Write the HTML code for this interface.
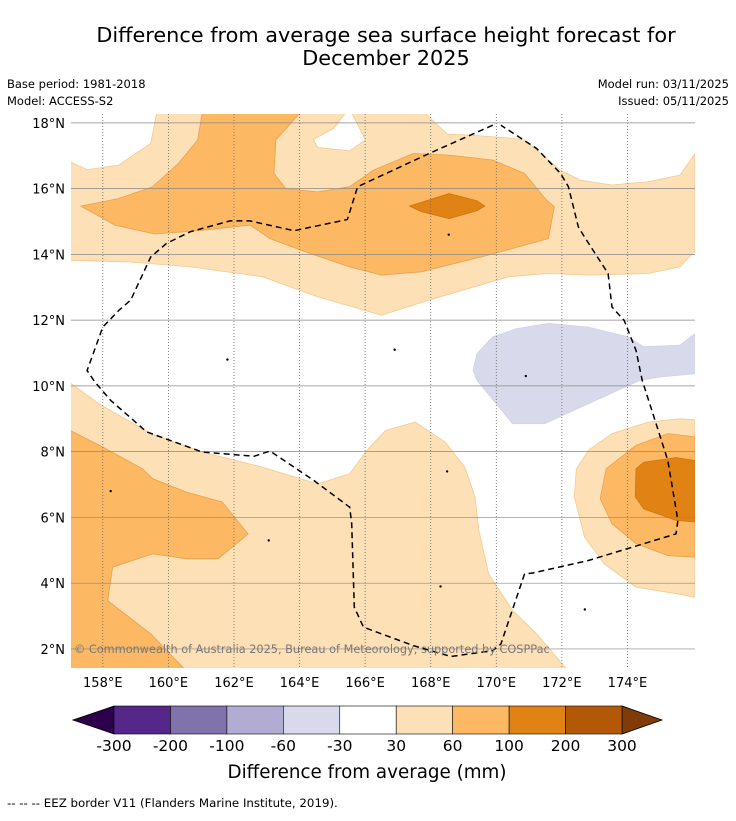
<!DOCTYPE html>
<html><head><meta charset="utf-8">
<style>
body{margin:0;background:#fff;font-family:"Liberation Sans",sans-serif;}
svg text{font-family:"DejaVu Sans","Liberation Sans",sans-serif;}
</style></head>
<body>
<svg id="chart" width="736" height="816" xmlns="http://www.w3.org/2000/svg">
<rect width="736" height="816" fill="#fff"/>
<text x="386" y="42" font-size="20.8" text-anchor="middle">Difference from average sea surface height forecast for</text>
<text x="386" y="65" font-size="20.8" text-anchor="middle">December 2025</text>
<text x="7" y="88" font-size="11.5">Base period: 1981-2018</text>
<text x="7" y="105" font-size="11.5">Model: ACCESS-S2</text>
<text x="729" y="88" font-size="11.5" text-anchor="end">Model run: 03/11/2025</text>
<text x="729" y="105" font-size="11.5" text-anchor="end">Issued: 05/11/2025</text>
<defs><clipPath id="mapclip"><rect x="71" y="114" width="624" height="554"/></clipPath></defs>
<g id="map" clip-path="url(#mapclip)"></g>
<g id="axes"></g>
<g id="colorbar"></g>
<text x="367" y="778" font-size="18.3" text-anchor="middle">Difference from average (mm)</text>
<text x="7" y="807" font-size="11.8">--  --  -- EEZ border V11 (Flanders Marine Institute, 2019).</text>
</svg>
<script>
const lonRange=[157.03,176.06], latRange=[1.42,18.27];
const xTicks=[158,160,162,164,166,168,170,172,174];
const yTicks=[2,4,6,8,10,12,14,16,18];
const cbLevels=["-300","-200","-100","-60","-30","30","60","100","200","300"];
const cbColors=["#542788","#8073ac","#b2abd2","#d8daeb","#ffffff","#fee0b6","#fdb863","#e08214","#b35806"];
const cbLow="#2d004b", cbHigh="#7f3b08";
// contour polygons [lon,lat]
const lightNorth=[[159.64,18.3],[167.83,18.3],[168.5,17.66],[169.17,17.63],[170.5,17.53],[170.86,17.48],[171.96,16.56],[172.56,16.26],[173.53,16.11],[174.63,16.21],[175.6,16.41],[176.06,17.07],[176.06,14.1],[175.6,13.62],[174.63,13.42],[172.81,13.37],[171.59,13.42],[170.38,13.32],[167.95,12.61],[166.5,12.15],[164.55,12.71],[162.86,13.32],[160.67,13.62],[158.85,13.77],[157.0,13.82],[157.0,16.82],[157.52,16.58],[158.49,16.72],[159.46,17.38]];
const holeNorth=[[165.4,18.3],[165.59,18.3],[166.01,17.48],[165.53,17.15],[164.55,17.25],[164.43,17.5],[165.04,17.83]];
const mediumNorth=[[161.03,18.3],[160.89,17.48],[160.31,16.77],[159.52,16.06],[158.49,15.7],[157.33,15.47],[158.37,14.89],[159.58,14.62],[160.91,14.72],[162.49,14.89],[163.1,14.48],[164.31,14.03],[165.53,13.62],[166.5,13.37],[167.71,13.47],[169.77,13.98],[171.59,14.48],[171.77,15.45],[171.53,15.65],[170.86,16.46],[169.89,16.87],[168.56,17.02],[167.47,17.07],[166.25,16.56],[165.53,16.06],[164.55,15.9],[163.58,16.0],[163.22,16.46],[163.28,17.48],[164.01,18.3]];
const darkNorth=[[167.35,15.47],[168.56,15.85],[169.41,15.63],[169.65,15.47],[169.41,15.33],[168.56,15.09],[167.71,15.3]];
const lavender=[[169.41,10.17],[169.29,10.47],[169.41,10.98],[169.89,11.49],[170.62,11.74],[171.59,11.9],[172.81,11.79],[174.02,11.49],[174.5,11.19],[175.6,11.24],[176.06,11.59],[176.06,10.37],[174.99,10.27],[174.38,10.17],[171.47,8.85],[170.5,8.85]];
const lightSouth=[[157.0,10.1],[157.88,9.46],[159.46,8.55],[161.03,7.99],[162.86,7.53],[164.55,7.02],[165.53,7.33],[166.01,7.99],[166.62,8.65],[167.53,8.9],[168.44,8.29],[169.04,7.53],[169.35,6.62],[169.47,5.6],[169.77,4.28],[170.5,3.17],[171.23,2.46],[172.14,1.39],[157.0,1.39]];
const mediumSouth=[[157.0,8.65],[158.0,8.14],[159.21,7.48],[159.52,7.18],[160.55,6.77],[161.64,6.47],[162.43,5.5],[161.52,4.74],[160.55,4.74],[159.52,4.89],[158.3,4.49],[158.15,3.47],[159.46,2.46],[160.49,1.39],[157.0,1.38]];
const lightEast=[[172.44,7.48],[172.81,8.04],[173.53,8.55],[174.63,8.9],[175.6,9.0],[176.06,8.97],[176.06,3.57],[175.48,3.68],[174.26,3.88],[173.29,4.59],[172.69,5.4],[172.38,6.62]];
const mediumEast=[[173.17,6.57],[173.35,7.48],[174.26,8.19],[175.23,8.55],[176.06,8.45],[176.06,4.79],[175.23,4.84],[174.26,5.2],[173.53,5.81]];
const darkEast=[[174.26,7.48],[174.5,7.68],[175.48,7.82],[176.06,7.73],[176.06,5.86],[175.48,5.91],[174.5,6.26],[174.24,6.62]];
const eezBorder=[[169.89,17.93],[167.95,17.07],[165.77,16.06],[165.46,15.06],[163.83,14.72],[162.49,15.02],[161.88,15.02],[160.67,14.69],[159.94,14.33],[159.46,13.92],[158.85,12.61],[158.49,12.3],[158.0,11.79],[157.52,10.47],[157.76,10.12],[158.24,9.56],[159.34,8.6],[161.03,7.99],[162.61,7.86],[163.1,8.02],[164.43,7.13],[165.53,6.31],[165.59,5.81],[165.67,3.27],[165.95,2.66],[167.47,2.1],[168.62,1.77],[169.89,1.95],[170.14,2.15],[170.86,4.28],[171.11,4.31],[172.81,4.69],[175.48,5.5],[175.54,5.91],[175.23,7.73],[174.81,9.05],[174.45,10.17],[174.26,11.08],[173.9,11.99],[173.53,12.4],[173.41,13.42],[172.69,14.53],[172.5,14.84],[172.2,16.06],[171.96,16.46],[171.23,17.22],[170.14,17.93]];
const islands=[[158.24,6.8],[163.06,5.3],[168.55,14.6],[161.8,10.8],[166.9,11.1],[170.9,10.3],[168.5,7.4],[168.3,3.9],[172.7,3.2]];

const NS="http://www.w3.org/2000/svg";
const X=lon=>71+(lon-lonRange[0])/(lonRange[1]-lonRange[0])*624;
const Y=lat=>668-(lat-latRange[0])/(latRange[1]-latRange[0])*554;
function mk(tag,attrs,parent){const e=document.createElementNS(NS,tag);for(const k in attrs)e.setAttribute(k,attrs[k]);parent.appendChild(e);return e;}
const map=document.getElementById('map'), axes=document.getElementById('axes'), cb=document.getElementById('colorbar');
function pts(a){return a.map(p=>X(p[0]).toFixed(1)+','+Y(p[1]).toFixed(1)).join(' ');}
const fills=[[lightNorth,"#fee0b6","#f5c98e","contour-30-60-north"],[holeNorth,"#ffffff","#f5c98e","contour-below-30-north"],[mediumNorth,"#fdb863","#eaa04c","contour-60-100-north"],[darkNorth,"#e08214","#cf7410","contour-100-200-north"],[lavender,"#d8daeb","#d0d2e6","contour-neg30-neg60"],[lightSouth,"#fee0b6","#f5c98e","contour-30-60-south"],[mediumSouth,"#fdb863","#eaa04c","contour-60-100-south"],[lightEast,"#fee0b6","#f5c98e","contour-30-60-east"],[mediumEast,"#fdb863","#eaa04c","contour-60-100-east"],[darkEast,"#e08214","#cf7410","contour-100-200-east"]];
fills.forEach(f=>{
  const p=mk('polygon',{points:pts(f[0]),fill:f[1],stroke:f[2],'stroke-width':0.8},map);
  
  
});
islands.forEach(i=>{
  const c=mk('circle',{cx:X(i[0]),cy:Y(i[1]),r:1.2,fill:'#000'},map);
  
  
});
xTicks.forEach(t=>{
  const l=mk('line',{x1:X(t),x2:X(t),y1:114,y2:668,stroke:'#666','stroke-width':0.8,'stroke-dasharray':'1,2'},map);
  
  
  const tx=mk('text',{x:X(t),y:687,'font-size':13,'text-anchor':'middle'},axes);
  tx.textContent=t+'°E';
  
  
});
yTicks.forEach(t=>{
  const l=mk('line',{x1:71,x2:695,y1:Y(t),y2:Y(t),stroke:'#888','stroke-width':0.7},map);
  
  
  const tx=mk('text',{x:65,y:Y(t)+5,'font-size':13,'text-anchor':'end'},axes);
  tx.textContent=t+'°N';
  
  
});
const eez=mk('polyline',{points:pts(eezBorder),fill:'none',stroke:'#000','stroke-width':1.5,'stroke-dasharray':'6,4'},map);


const cr=mk('text',{x:74,y:653,'font-size':11.3,fill:'#777'},map);
cr.textContent='© Commonwealth of Australia 2025, Bureau of Meteorology, supported by COSPPac';


// colorbar
const cbX0=114, cbX1=622, cbY=706, cbH=28, bw=(cbX1-cbX0)/cbColors.length;
const lt=mk('polygon',{points:`${cbX0},${cbY} ${cbX0},${cbY+cbH} 73,${cbY+cbH/2}`,fill:cbLow,stroke:'#000','stroke-width':0.8},cb);


const rt=mk('polygon',{points:`${cbX1},${cbY} ${cbX1},${cbY+cbH} 662,${cbY+cbH/2}`,fill:cbHigh,stroke:'#000','stroke-width':0.8},cb);


cbColors.forEach((c,i)=>{
  const r=mk('rect',{x:cbX0+i*bw,y:cbY,width:bw,height:cbH,fill:c,stroke:'#000','stroke-width':0.6},cb);
  
  
});
cbLevels.forEach((v,i)=>{
  const t=mk('text',{x:cbX0+i*bw,y:751,'font-size':15.5,'text-anchor':'middle'},cb);
  t.textContent=v;
  
  
});
</script>
</body></html>
